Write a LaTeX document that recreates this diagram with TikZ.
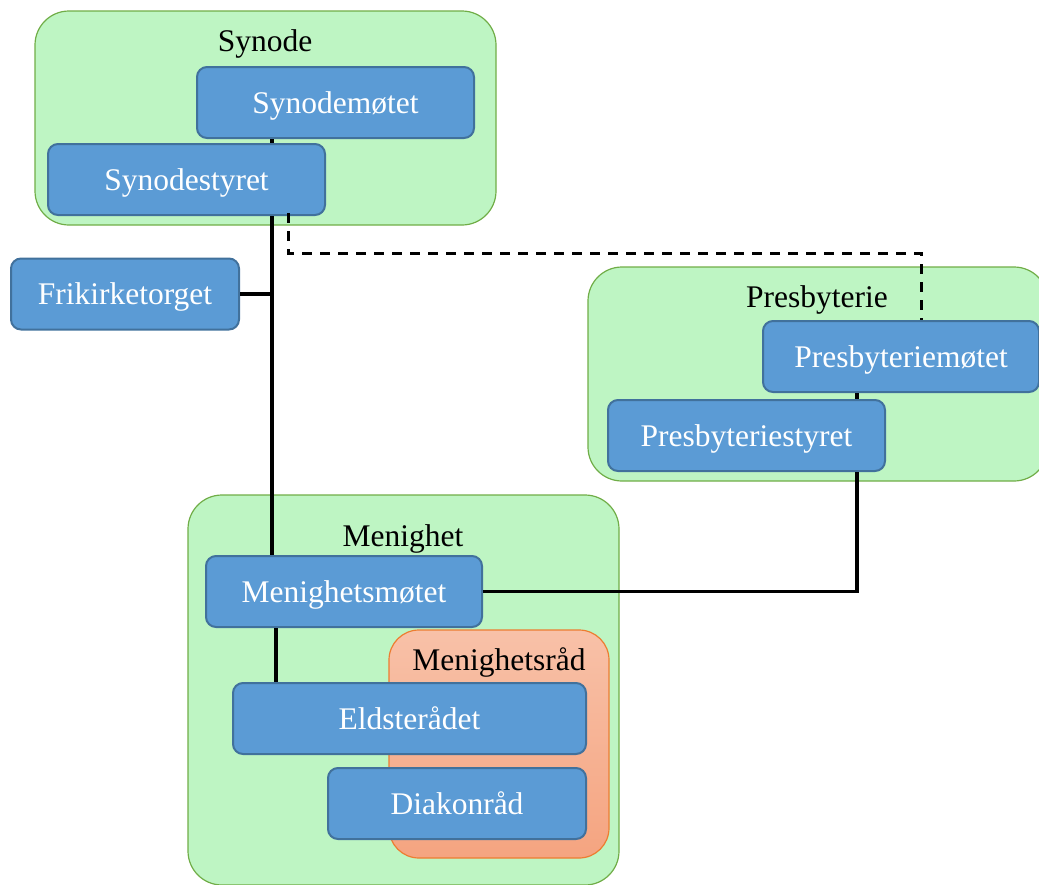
\documentclass[tikz,border=0pt]{standalone}
\usepackage{fontspec}
\setmainfont{Liberation Serif}
\usetikzlibrary{calc}
\definecolor{groupfill}{RGB}{190,245,195}
\definecolor{groupline}{RGB}{112,173,71}
\definecolor{boxfill}{RGB}{91,155,213}
\definecolor{boxline}{RGB}{65,113,156}
\definecolor{councilline}{RGB}{237,125,49}
\definecolor{counciltop}{RGB}{248,193,168}
\definecolor{councilbot}{RGB}{245,164,128}
\tikzset{
  group/.style={draw=groupline, fill=groupfill, line width=1.2pt, rounded corners=34pt, inner sep=0pt},
  council/.style={draw=councilline, top color=counciltop, bottom color=councilbot, line width=1.2pt, rounded corners=30pt, inner sep=0pt},
  unit/.style={draw=boxline, fill=boxfill, line width=2pt, rounded corners=10pt, inner sep=0pt, text=white,
    font=\fontsize{31.5}{36}\selectfont, text height=21pt, text depth=0pt},
  grouplabel/.style={inner sep=0pt, text=black, font=\fontsize{31.5}{36}\selectfont, text height=21pt, text depth=0pt},
  link/.style={draw=black, line width=3.4pt},
  weaklink/.style={draw=black, line width=3pt, dash pattern=on 10pt off 8pt},
}
\begin{document}
\begin{tikzpicture}[x=1pt, y=-1pt]
\useasboundingbox (0,0) rectangle (1039,884);

% containers
\node[group, minimum width=461pt, minimum height=214pt] (synode) at (265.5,118) {};
\node[group, minimum width=460pt, minimum height=214pt] (presb) at (818,374) {};
\node[group, minimum width=431pt, minimum height=390pt] (menighet) at (403.5,690) {};
\node[council, minimum width=220pt, minimum height=228pt] (raad) at (499,744) {};

% container titles
\node[grouplabel] (synodeT) at (265,41) {Synode};
\node[grouplabel] (presbT) at (817,297) {Presbyterie};
\node[grouplabel] (menighetT) at (403,536) {Menighet};
\node[grouplabel] (raadT) at (499,660) {Menighetsråd};

% connector columns
\coordinate (cx) at (272,0);
\coordinate (dx) at (288,0);
\coordinate (dy) at (0,253);
\coordinate (pmx) at (921,0);
\coordinate (px) at (857,0);
\coordinate (ex) at (276,0);

% units
\node[unit, minimum width=277pt, minimum height=71pt] (sm) at (335.5,102.5) {Synodemøtet};
\node[unit, minimum width=277pt, minimum height=71pt] (ss) at (186.5,179.5) {Synodestyret};
\node[unit, minimum width=228pt, minimum height=71pt] (ft) at (125,294) {Frikirketorget};
\node[unit, minimum width=276pt, minimum height=71pt] (pm) at (901,356.5) {Presbyteriemøtet};
\node[unit, minimum width=277pt, minimum height=71pt] (ps) at (746.5,435.5) {Presbyteriestyret};
\node[unit, minimum width=276pt, minimum height=71pt] (mm) at (344,591.5) {Menighetsmøtet};
\node[unit, minimum width=353pt, minimum height=71pt] (el) at (409.5,718.5) {Eldsterådet};
\node[unit, minimum width=258pt, minimum height=71pt] (dk) at (457,803.5) {Diakonråd};

% connectors
\draw[link] (sm.south -| cx) -- (ss.north -| cx);
\draw[link] (ss.south -| cx) -- (mm.north -| cx);
\draw[link] (ft.east) -- (ft.east -| cx);
\draw[link] (pm.south -| px) -- (ps.north -| px);
\draw[link] (ps.south -| px) |- (mm.east);
\draw[link] (mm.south -| ex) -- (el.north -| ex);
\draw[weaklink] ($(ss.south -| dx)+(0,-3)$) -- (dx |- dy) -- (pmx |- dy) -- (pm.north -| pmx);
\end{tikzpicture}
\end{document}
